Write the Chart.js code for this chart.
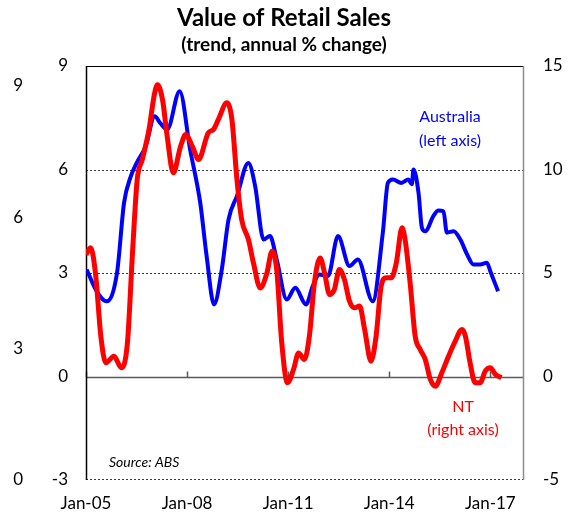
<!DOCTYPE html>
<html>
<head>
<meta charset="utf-8">
<script src="https://cdn.jsdelivr.net/npm/chart.js@4/dist/chart.umd.min.js"></script>
<style>
  html, body { margin: 0; padding: 0; background: #fff; }
  #wrap { width: 568px; height: 520px; }
</style>
</head>
<body>
<div id="wrap"><canvas id="retailChart"></canvas></div>
<script>
// x in years
const ausDates = [2005.02, 2005.3, 2005.61, 2005.92, 2006.13, 2006.33, 2006.51, 2006.77, 2007.04, 2007.2, 2007.41,
  2007.78, 2008.09, 2008.39, 2008.58, 2008.8, 2009.03, 2009.23, 2009.48, 2009.82, 2010.02, 2010.27, 2010.46,
  2010.66, 2010.96, 2011.21, 2011.53, 2011.73, 2011.93, 2012.18, 2012.48, 2012.82, 2013.07, 2013.51, 2013.81,
  2013.96, 2014.11, 2014.36, 2014.57, 2014.67, 2014.72, 2014.87, 2014.97, 2015.07, 2015.31, 2015.46, 2015.61,
  2015.71, 2015.91, 2016.11, 2016.31, 2016.5, 2016.7, 2016.9, 2017.0, 2017.23];
const ausValues = [3.1, 2.5, 2.18, 3.0, 5.04, 5.8, 6.2, 6.67, 7.54, 7.35, 7.16,
  8.27, 6.58, 5.04, 3.49, 2.09, 3.1, 4.55, 5.23, 6.19, 5.52, 3.97, 4.07,
  3.39, 2.23, 2.57, 2.09, 2.62, 2.96, 2.91, 4.07, 3.2, 3.39, 2.18, 4.17,
  5.61, 5.71, 5.61, 5.71, 5.57, 6.0, 5.32, 4.31, 4.21, 4.65, 4.81, 4.79,
  4.17, 4.21, 3.97, 3.54, 3.25, 3.25, 3.3, 3.05, 2.47];

const ntDates = [2005.0, 2005.14, 2005.29, 2005.44, 2005.59, 2005.83, 2006.05, 2006.23, 2006.38, 2006.52, 2006.67,
  2006.87, 2007.02, 2007.12, 2007.27, 2007.41, 2007.59, 2007.81, 2007.96, 2008.16, 2008.34, 2008.63, 2008.78,
  2008.93, 2009.18, 2009.33, 2009.48, 2009.62, 2009.82, 2009.97, 2010.17, 2010.37, 2010.52, 2010.66, 2010.81,
  2010.98, 2011.16, 2011.31, 2011.48, 2011.63, 2011.78, 2011.95, 2012.08, 2012.23, 2012.37, 2012.52, 2012.67,
  2012.82, 2012.97, 2013.12, 2013.27, 2013.46, 2013.61, 2013.76, 2013.91, 2014.06, 2014.21, 2014.38, 2014.47,
  2014.62, 2014.77, 2014.92, 2015.07, 2015.22, 2015.37, 2015.56, 2015.76, 2015.96, 2016.16, 2016.26, 2016.4,
  2016.55, 2016.7, 2016.85, 2017.0, 2017.15, 2017.33];
const ntValues = [5.89, 6.22, 4.85, 1.95, 0.66, 0.98, 0.42, 1.63, 5.97, 9.52, 10.48,
  11.93, 13.54, 14.1, 13.38, 11.6, 9.84, 11.13, 11.69, 11.1, 10.48, 11.77, 11.93,
  12.42, 13.22, 12.42, 9.52, 7.58, 6.62, 5.49, 4.28, 5.0, 6.05, 5.17, 1.63,
  -0.3, 0.34, 1.14, 0.82, 1.95, 4.53, 5.73, 5.01, 3.96, 4.2, 5.17, 4.69,
  3.64, 3.32, 3.4, 2.27, 0.74, 1.95, 4.36, 4.77, 4.77, 5.49, 7.18, 6.62,
  4.53, 1.95, 1.3, 0.82, -0.14, -0.47, 0.18, 0.98, 1.71, 2.27, 1.95, 0.66,
  -0.3, -0.3, 0.26, 0.42, 0.1, -0.06];

const tickYears = [2005, 2008, 2011, 2014, 2017];
const tickLabels = ['Jan-05', 'Jan-08', 'Jan-11', 'Jan-14', 'Jan-17'];
const leftTicks = [-3, 0, 3, 6, 9];
const rightTicks = [-5, 0, 5, 10, 15];
const outerTicks = [0, 3, 6, 9];

const FONT = 'Lato, "Open Sans", sans-serif';

function toPoints(dates, values) {
  return dates.map((d, i) => ({ x: d, y: values[i] }));
}

function setTicks(list) {
  return (scale) => {
    scale.ticks = list.map((v) => ({ value: v }));
  };
}

function hline(ctx, x1, x2, y) {
  ctx.beginPath();
  ctx.moveTo(x1, y);
  ctx.lineTo(x2, y);
  ctx.stroke();
}

function vline(ctx, x, y1, y2) {
  ctx.beginPath();
  ctx.moveTo(x, y1);
  ctx.lineTo(x, y2);
  ctx.stroke();
}

// dotted grid, zero line and frame
const framePlugin = {
  id: 'frame',
  beforeDatasetsDraw(chart) {
    const { ctx, chartArea, scales } = chart;
    const { left, right, top, bottom } = chartArea;
    const y = scales.y;
    const x = scales.x;
    ctx.save();
    ctx.lineWidth = 1;
    ctx.strokeStyle = '#3a3a3a';
    ctx.setLineDash([2, 2]);
    [3, 6].forEach((v) => hline(ctx, left, right, Math.round(y.getPixelForValue(v)) + 0.5));
    hline(ctx, left, right, Math.round(bottom) - 0.5);
    ctx.setLineDash([]);

    const zero = Math.round(y.getPixelForValue(0)) + 0.5;
    ctx.strokeStyle = '#5a5a5a';
    ctx.lineWidth = 1.5;
    hline(ctx, left, right, zero);
    tickYears.forEach((t) => {
      const px = Math.round(x.getPixelForValue(t)) + 0.5;
      vline(ctx, px, zero, zero - 6);
    });

    ctx.lineWidth = 1;
    ctx.strokeStyle = '#000';
    hline(ctx, left, right, Math.round(top) + 0.5);
    ctx.lineWidth = 1.5;
    vline(ctx, Math.round(left) + 0.5, top, bottom);
    ctx.strokeStyle = '#8c8c8c';
    vline(ctx, Math.round(right) - 0.5, top, bottom);
    ctx.restore();
  },
  afterDraw(chart) {
    const { ctx } = chart;
    ctx.save();
    ctx.textAlign = 'center';
    ctx.textBaseline = 'middle';
    ctx.font = '16px ' + FONT;
    ctx.fillStyle = '#0000ff';
    ctx.fillText('Australia', 450, 117);
    ctx.fillText('(left axis)', 450, 141);
    ctx.fillStyle = '#ff0000';
    ctx.fillText('NT', 463, 407);
    ctx.fillText('(right axis)', 463, 430);
    ctx.textAlign = 'left';
    ctx.fillStyle = '#000';
    ctx.font = 'italic 14px ' + FONT;
    ctx.fillText('Source: ABS', 109, 462);
    ctx.restore();
  },
};

const tickFont = { family: FONT, size: 17 };

new Chart(document.getElementById('retailChart'), {
  type: 'line',
  data: {
    datasets: [
      {
        label: 'NT',
        data: toPoints(ntDates, ntValues),
        yAxisID: 'y2',
        borderColor: '#ff0000',
        borderWidth: 5,
        pointRadius: 0,
        cubicInterpolationMode: 'monotone',
        order: 0,
      },
      {
        label: 'Australia',
        data: toPoints(ausDates, ausValues),
        yAxisID: 'y',
        borderColor: '#0000ff',
        borderWidth: 4,
        pointRadius: 0,
        cubicInterpolationMode: 'monotone',
        order: 1,
      },
    ],
  },
  options: {
    responsive: true,
    maintainAspectRatio: false,
    animation: false,
    devicePixelRatio: 1,
    layout: { padding: { top: 0, right: 0, bottom: 0, left: 0 } },
    plugins: {
      legend: { display: false },
      tooltip: { enabled: false },
      title: {
        display: true,
        text: 'Value of Retail Sales',
        color: '#000',
        font: { family: FONT, size: 24, weight: 'bold' },
        padding: { top: 4, bottom: 0 },
      },
      subtitle: {
        display: true,
        text: '(trend, annual % change)',
        color: '#000',
        font: { family: FONT, size: 19, weight: 'bold' },
        padding: { top: 1, bottom: 9.4 },
      },
    },
    scales: {
      x: {
        type: 'linear',
        min: 2005,
        max: 2018,
        afterBuildTicks: setTicks(tickYears),
        afterFit: (s) => { s.height = 40; },
        grid: { display: false, drawTicks: false },
        border: { display: false },
        ticks: {
          autoSkip: false,
          maxRotation: 0,
          padding: 13,
          color: '#000',
          font: tickFont,
          callback: (v) => tickLabels[tickYears.indexOf(v)],
        },
      },
      y: {
        position: 'left',
        min: -3,
        max: 9,
        weight: 0,
        afterBuildTicks: setTicks(leftTicks),
        afterFit: (s) => { s.width = 46; },
        grid: { display: false, drawTicks: false },
        border: { display: false },
        ticks: { padding: 18, color: '#000', font: tickFont },
      },
      yOuter: {
        position: 'left',
        min: 0,
        max: 9.45,
        weight: 1,
        afterBuildTicks: setTicks(outerTicks),
        afterFit: (s) => { s.width = 40; },
        grid: { display: false, drawTicks: false },
        border: { display: false },
        ticks: { padding: 17, color: '#000', font: tickFont },
      },
      y2: {
        position: 'right',
        min: -5,
        max: 15,
        afterBuildTicks: setTicks(rightTicks),
        afterFit: (s) => { s.width = 44; },
        grid: { display: false, drawTicks: false },
        border: { display: false },
        ticks: { padding: 19, color: '#000', font: tickFont },
      },
    },
  },
  plugins: [framePlugin],
});
</script>
</body>
</html>
